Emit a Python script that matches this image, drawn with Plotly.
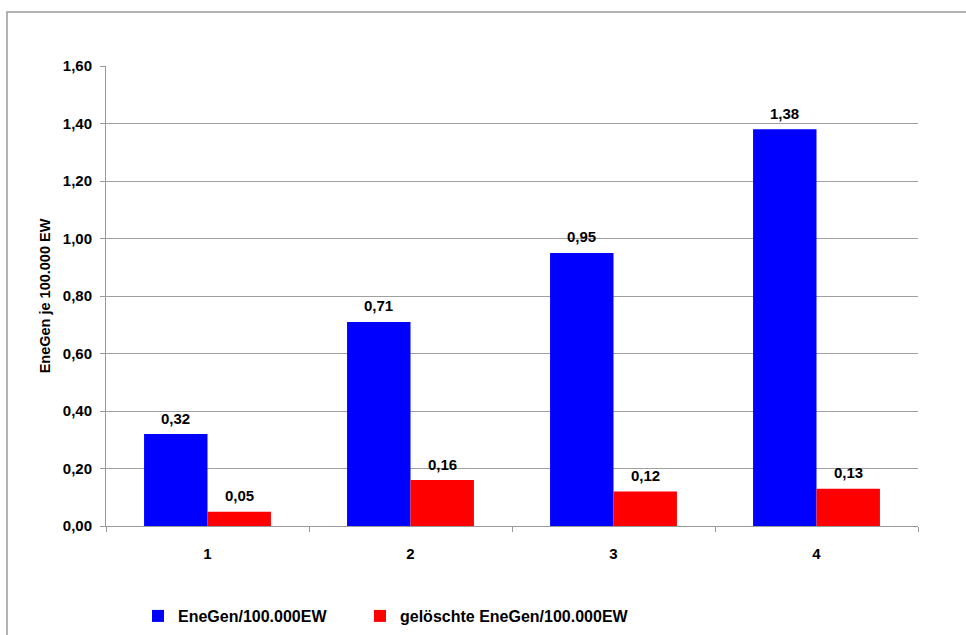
import plotly.graph_objects as go

categories = ["1", "2", "3", "4"]
series_names = ["EneGen/100.000EW", "gelöschte EneGen/100.000EW"]
enegen = [0.32, 0.71, 0.95, 1.38]
geloescht = [0.05, 0.16, 0.12, 0.13]
colors = ["#0000FF", "#FF0000"]
y_tick_vals = [0.0, 0.2, 0.4, 0.6, 0.8, 1.0, 1.2, 1.4, 1.6]

FONT = "Liberation Sans, Arial, sans-serif"

fig = go.Figure()
for name, vals, col, lg in zip(series_names, [enegen, geloescht], colors, ["legend", "legend2"]):
    fig.add_trace(go.Bar(x=categories, y=vals, name=name, legend=lg,
                         marker=dict(color=col, line=dict(width=0))))

# data labels
W = 966
pl, pr = 106, 48
plot_w = W - pl - pr
cat_w = plot_w / len(categories)
bar_w = cat_w * 0.625 / 2
annotations = []
for vals, sh in [(enegen, -bar_w / 2), (geloescht, bar_w / 2)]:
    for i, v in enumerate(vals):
        annotations.append(dict(x=i, y=v, xref="x", yref="y", text=f"{v:.2f}".replace(".", ","),
                                showarrow=False, xshift=sh, yshift=16, yanchor="middle",
                                font=dict(family=FONT, size=15, color="black", weight="bold")))

legend_common = dict(orientation="h", yref="container", xref="container",
                     yanchor="middle", y=0.0299, xanchor="left",
                     font=dict(family=FONT, size=16, color="black", weight="bold"),
                     itemwidth=30, bgcolor="rgba(0,0,0,0)")

fig.update_layout(
    width=966, height=635,
    margin=dict(l=pl, r=pr, t=66, b=109, autoexpand=False),
    paper_bgcolor="white", plot_bgcolor="white",
    separators=",.",
    font=dict(family=FONT, size=15, color="black", weight="bold"),
    barmode="group", bargap=0.375, bargroupgap=0,
    showlegend=True,
    legend=dict(x=138 / W, **legend_common),
    legend2=dict(x=360 / W, **legend_common),
    annotations=annotations,
    shapes=[dict(type="rect", xref="paper", yref="paper",
                 x0=(7 - pl) / plot_w, x1=2.0, y0=-1.0, y1=(526 - 12) / 460,
                 line=dict(color="#999999", width=1.5), fillcolor="rgba(0,0,0,0)", layer="below")],
)
fig.update_xaxes(type="category", showline=True, linecolor="#999999", linewidth=1,
                 ticks="outside", tickson="boundaries", ticklen=5, tickcolor="#999999",
                 showgrid=False, ticklabelstandoff=14,
                 tickfont=dict(size=15, weight="bold"))
fig.update_yaxes(range=[0, 1.6], tickvals=y_tick_vals, tickformat=".2f",
                 showline=True, linecolor="#999999", linewidth=1,
                 ticks="outside", ticklen=5, tickcolor="#999999",
                 showgrid=True, gridcolor="#a0a0a0", gridwidth=1, zeroline=False,
                 ticklabelstandoff=5,
                 tickfont=dict(size=15, weight="bold"),
                 title=dict(text="EneGen je 100.000 EW", standoff=8,
                            font=dict(size=14.5, weight="bold")))

fig.write_html("out.html")
